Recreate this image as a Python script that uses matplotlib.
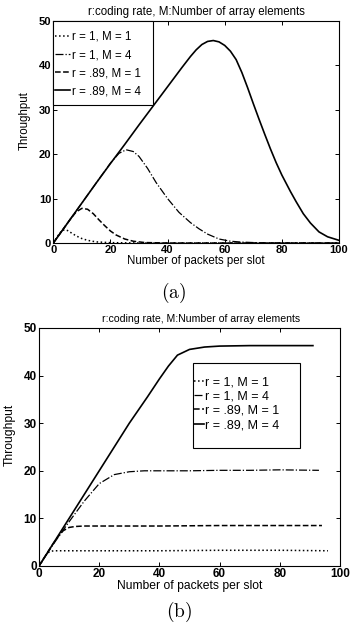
import matplotlib
matplotlib.use("Agg")
import matplotlib.pyplot as plt
from matplotlib.patches import Rectangle

plt.rcParams['font.family'] = ['Liberation Sans', 'DejaVu Sans']
plt.rcParams['mathtext.fontset'] = 'cm'

labels = ["r = 1, M = 1", "r = 1, M = 4", "r = .89, M = 1", "r = .89, M = 4"]
title_text = "r:coding rate, M:Number of array elements"
xlabel_text = "Number of packets per slot"
ylabel_text = "Throughput"
xticks = [0, 20, 40, 60, 80, 100]
yticks = [0, 10, 20, 30, 40, 50]

# ---- (a) ----
a_x1 = [0, 1, 2, 3, 4, 5, 6, 7, 8, 10, 12, 15, 20, 30, 60, 100]
a_y1 = [0, 1.0, 2.0, 2.8, 3.0, 2.8, 2.4, 2.0, 1.6, 1.0, 0.6, 0.25, 0.08, 0, 0, 0]
a_x2 = [0, 5, 10, 15, 20, 23, 25.5, 28, 30, 33, 36, 40, 44, 48, 51, 54, 58, 62, 66, 72, 80, 100]
a_y2 = [0, 4.5, 9, 13.5, 18, 20.2, 21.0, 20.6, 19.5, 16.8, 13.6, 10.0, 6.9, 4.6, 3.2, 2.0, 0.9, 0.4, 0.2, 0.05, 0, 0]
a_x3 = [0, 2, 4, 6, 8, 10, 12, 14, 16, 18, 20, 22, 25, 28, 32, 40, 70, 100]
a_y3 = [0, 1.8, 3.6, 5.4, 7.0, 7.8, 7.6, 6.6, 5.2, 3.9, 2.7, 1.8, 0.9, 0.4, 0.1, 0, 0, 0]
a_x4 = [0, 5, 10, 15, 20, 25, 30, 35, 40, 45, 48, 50, 52, 54, 56, 58, 60, 62, 64, 66, 68, 70,
        72, 74, 76, 78, 80, 83, 85, 87.5, 90, 93, 96, 100]
a_y4 = [0, 4.5, 9.0, 13.5, 17.9, 22.2, 26.6, 30.9, 35.2, 39.5, 42.0, 43.5, 44.7, 45.4, 45.6, 45.3, 44.5,
        43.2, 41.3, 38.4, 35.0, 31.4, 27.9, 24.5, 21.2, 18.1, 15.3, 11.6, 9.3, 6.6, 4.5, 2.5, 1.4, 0.6]

# ---- (b) ----
b_x1 = [0, 1, 2, 3, 4, 5, 7, 10, 20, 40, 60, 80, 96]
b_y1 = [0, 1.0, 2.0, 2.8, 3.1, 3.2, 3.2, 3.2, 3.2, 3.2, 3.3, 3.3, 3.2]
b_x2 = [0, 5, 10, 15, 20, 25, 30, 35, 40, 50, 60, 70, 80, 93]
b_y2 = [0, 4.8, 9.3, 13.6, 17.3, 19.2, 19.8, 20.0, 20.0, 20.0, 20.1, 20.1, 20.2, 20.1]
b_x3 = [0, 2, 4, 6, 8, 10, 12, 15, 20, 40, 60, 80, 94]
b_y3 = [0, 2.0, 4.0, 5.9, 7.4, 8.1, 8.3, 8.4, 8.4, 8.4, 8.5, 8.5, 8.5]
b_x4 = [0, 10, 20, 30, 36, 40, 43, 46, 50, 55, 60, 70, 80, 91]
b_y4 = [0, 10, 20, 30, 35.5, 39.3, 42, 44.3, 45.5, 46, 46.2, 46.3, 46.3, 46.3]

styles = [dict(ls=':', lw=1.1), dict(ls='-.', lw=0.9), dict(ls='--', lw=1.1), dict(ls='-', lw=1.2)]

W, H = 353, 629
fig = plt.figure(figsize=(W / 100, H / 100), dpi=100)


def fx(px):
    return px / W


def fy(py):
    return 1 - py / H


def style_axes(ax, tick_fs, lab_fs, title_fs, title_x, ylab_xy):
    ax.set_xlim(0, 100)
    ax.set_ylim(0, 50)
    ax.set_xticks(xticks)
    ax.set_yticks(yticks)
    ax.tick_params(direction='in', length=3, width=0.7, top=True, right=True,
                   labelsize=tick_fs, pad=1.5)
    for lab in ax.get_xticklabels() + ax.get_yticklabels():
        lab.set_fontweight('bold')
    for sp in ax.spines.values():
        sp.set_linewidth(0.8)
    ax.set_title(title_text, fontsize=title_fs, pad=4, x=title_x)
    ax.set_xlabel(xlabel_text, fontsize=lab_fs, labelpad=0)
    ax.set_ylabel(ylabel_text, fontsize=lab_fs)
    ax.yaxis.set_label_coords(*ylab_xy)


def boxed_legend(ax, handle_left, first_row_top, box, fs, ls, hl, htp):
    leg = ax.legend(loc='upper left', bbox_to_anchor=(fx(handle_left), fy(first_row_top)),
                    bbox_transform=fig.transFigure, fontsize=fs, frameon=False,
                    handlelength=hl, handletextpad=htp, borderpad=0.0,
                    labelspacing=ls, borderaxespad=0.0)
    x0, y0, x1, y1 = box
    rect = Rectangle((fx(x0), fy(y1)), fx(x1) - fx(x0), fy(y0) - fy(y1),
                     transform=fig.transFigure, fill=True, facecolor='white',
                     edgecolor='black', linewidth=0.8, zorder=4)
    ax.add_patch(rect)
    rect.set_clip_on(False)
    leg.set_zorder(5)
    return leg


# top axes: x 53.3..339, y 21..243
ax1 = fig.add_axes([fx(53.3), fy(243), fx(339) - fx(53.3), fy(21) - fy(243)])
for (x, y), st, lab in zip([(a_x1, a_y1), (a_x2, a_y2), (a_x3, a_y3), (a_x4, a_y4)], styles, labels):
    ax1.plot(x, y, color='black', label=lab, **st)
style_axes(ax1, 8, 8.3, 8.3, 0.5, (-0.078, 0.55))
boxed_legend(ax1, 55, 30.9, (53.3, 21, 152.7, 105), 8.3, 0.53, 1.3, 0.15)

# bottom axes: x 39..340, y 328..566
ax2 = fig.add_axes([fx(39), fy(566), fx(340) - fx(39), fy(328) - fy(566)])
for (x, y), st, lab in zip([(b_x1, b_y1), (b_x2, b_y2), (b_x3, b_y3), (b_x4, b_y4)], styles, labels):
    ax2.plot(x, y, color='black', label=lab, **st)
style_axes(ax2, 8.5, 8.7, 7.6, 0.54, (-0.076, 0.553))
boxed_legend(ax2, 194, 376.3, (193, 363.3, 300, 448.3), 9, 0.18, 0.8, 0.1)

fig.text(fx(174), fy(293), r"$\mathrm{(a)}$", ha='center', va='center', fontsize=14)
fig.text(fx(179), fy(612), r"$\mathrm{(b)}$", ha='center', va='center', fontsize=14)

fig.savefig("out.png", dpi=100)
